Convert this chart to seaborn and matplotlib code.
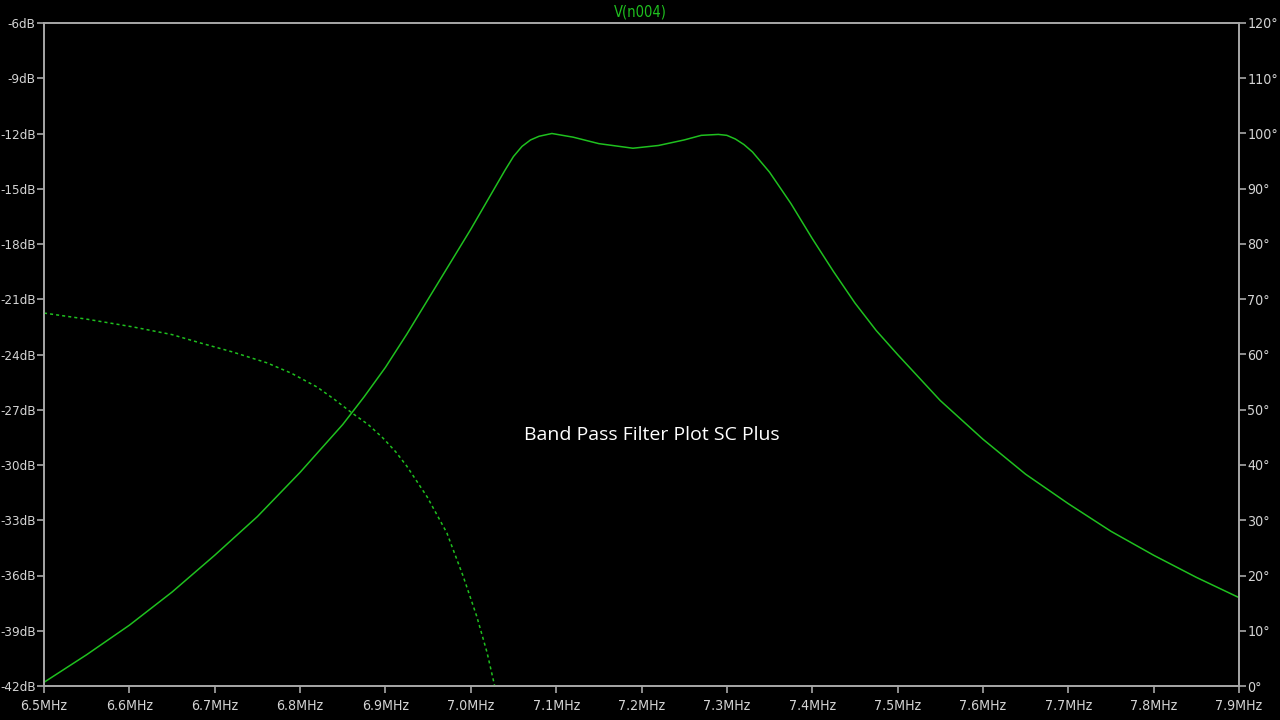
import pandas as pd
import seaborn as sns
from matplotlib import pyplot as plt

# magnitude trace, V(n004) in dB
freq_mag = [6.500, 6.550, 6.600, 6.650, 6.700, 6.750, 6.800, 6.850, 6.875, 6.900,
            6.925, 6.950, 6.975, 7.000, 7.020, 7.040, 7.050, 7.060, 7.070, 7.080,
            7.095, 7.120, 7.150, 7.190, 7.220, 7.250, 7.270, 7.290, 7.300, 7.310,
            7.320, 7.330, 7.350, 7.375, 7.400, 7.425, 7.450, 7.475, 7.500, 7.550,
            7.600, 7.650, 7.700, 7.750, 7.800, 7.850, 7.900]
mag_db = [-41.8, -40.3, -38.7, -36.9, -34.9, -32.8, -30.4, -27.8, -26.3, -24.7,
          -22.9, -21.0, -19.1, -17.2, -15.6, -14.0, -13.25, -12.7, -12.35, -12.15,
          -12.0, -12.2, -12.55, -12.8, -12.65, -12.35, -12.1, -12.05, -12.1, -12.3,
          -12.6, -13.0, -14.1, -15.8, -17.7, -19.5, -21.2, -22.7, -24.0, -26.5,
          -28.6, -30.5, -32.1, -33.6, -34.9, -36.1, -37.2]

# phase trace in degrees (dotted)
freq_ph = [6.500, 6.550, 6.604, 6.650, 6.683, 6.720, 6.761, 6.790, 6.820, 6.840,
           6.861, 6.880, 6.897, 6.912, 6.925, 6.949, 6.972, 6.991, 7.007, 7.019,
           7.028]
phase_deg = [67.5, 66.4, 65.0, 63.6, 62.1, 60.5, 58.5, 56.6, 54.1, 51.9,
             49.4, 47.3, 44.9, 42.4, 39.8, 34.2, 27.7, 19.9, 12.6, 6.1,
             0.0]

db_ticks = list(range(-42, -5, 3))
deg_ticks = list(range(0, 121, 10))
mhz_ticks = [6.5, 6.6, 6.7, 6.8, 6.9, 7.0, 7.1, 7.2, 7.3, 7.4, 7.5, 7.6, 7.7, 7.8, 7.9]

mag = pd.DataFrame({"f": freq_mag, "db": mag_db})
ph = pd.DataFrame({"f": freq_ph, "deg": phase_deg})

sns.set_style("dark", {"axes.facecolor": "black", "figure.facecolor": "black"})
plt.rcParams['font.family'] = ['DejaVu Sans']
plt.rcParams['font.stretch'] = 'condensed'

trace = "#1fc01f"
frame = "#a8a8a8"
label = "#d4d4d4"

fig = plt.figure(figsize=(12.8, 7.2), dpi=100)
ax = fig.add_axes([44 / 1280, 1 - 686 / 720, 1195 / 1280, 663 / 720])
ax2 = ax.twinx()

sns.lineplot(data=mag, x="f", y="db", ax=ax, color=trace, linewidth=1.1)
sns.lineplot(data=ph, x="f", y="deg", ax=ax2, color=trace, linewidth=1.1,
             linestyle=(0, (2, 2)))

ax.set_xlim(6.5, 7.9)
ax.set_ylim(-42, -6)
ax2.set_ylim(0, 120)

ax.set_xticks(mhz_ticks)
ax.set_xticklabels([f"{t:.1f}MHz" for t in mhz_ticks])
ax.set_yticks(db_ticks)
ax.set_yticklabels([f"{t}dB" for t in db_ticks])
ax2.set_yticks(deg_ticks)
ax2.set_yticklabels([f"{t}\u00b0" for t in deg_ticks])

for a in (ax, ax2):
    a.set_xlabel("")
    a.set_ylabel("")
    a.grid(False)
    a.set_facecolor("none")
    for s in a.spines.values():
        s.set_visible(True)
        s.set_color(frame)
        s.set_linewidth(1.2)
    a.tick_params(colors=frame, labelcolor=label, labelsize=9.6,
                  direction="out", length=5, width=1.2, pad=1)
ax.set_facecolor("black")
ax.tick_params(axis="y", left=True)
ax.tick_params(axis="x", bottom=True, pad=4, labelsize=10.2)
ax2.tick_params(axis="y", right=True, labelsize=10.2)

fig.text(0.5, 1 - 12 / 720, "V(n004)", color=trace, fontsize=10.5,
         ha="center", va="center")
fig.text(652 / 1280, 1 - 435 / 720, "Band Pass Filter Plot SC Plus",
         color="white", fontsize=14, family="Open Sans", stretch="normal",
         ha="center", va="center")

fig.savefig("out.png", dpi=100, facecolor="black")
